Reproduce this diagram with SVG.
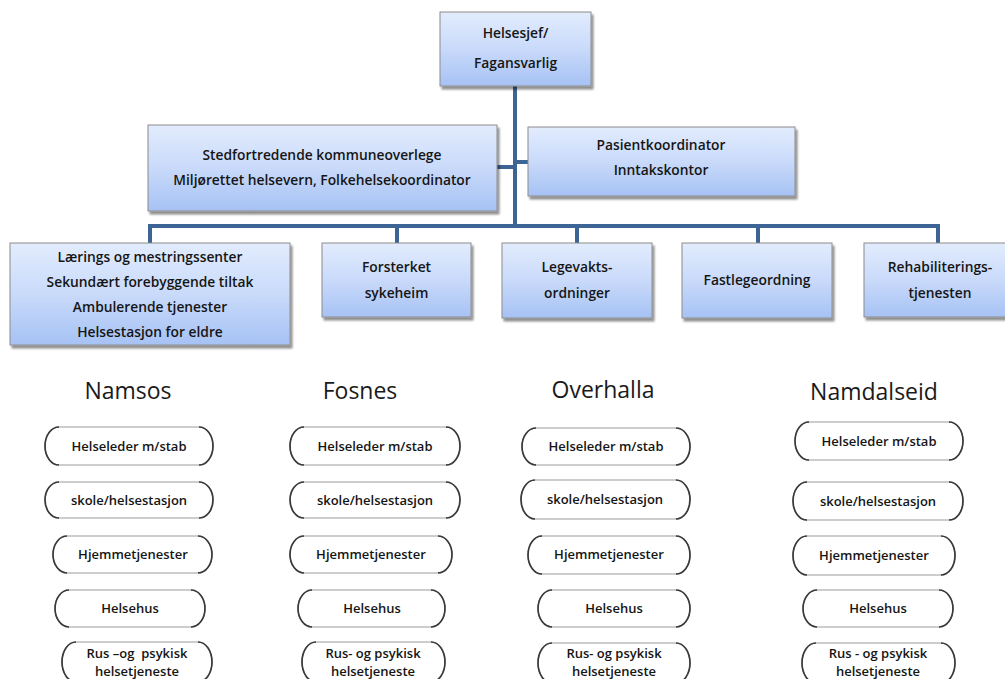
<svg xmlns="http://www.w3.org/2000/svg" width="1005" height="679" viewBox="0 0 1005 679">
<defs>
<linearGradient id="boxg" x1="0" y1="0" x2="0" y2="1">
<stop offset="0" stop-color="#e2ecfd"/>
<stop offset="0.5" stop-color="#c9dafa"/>
<stop offset="1" stop-color="#a6c2f4"/>
</linearGradient>
<filter id="sh" x="-5%" y="-5%" width="115%" height="125%">
<feGaussianBlur in="SourceAlpha" stdDeviation="1.2"/>
<feOffset dx="2" dy="2.5" result="b"/>
<feComponentTransfer><feFuncA type="linear" slope="0.45"/></feComponentTransfer>
<feMerge><feMergeNode/><feMergeNode in="SourceGraphic"/></feMerge>
</filter>
</defs>
<style>
.box{fill:url(#boxg);stroke:#8c8c8c;stroke-width:1;filter:url(#sh)}
.t{font-family:"Open Sans","Liberation Sans",sans-serif;font-weight:600;font-size:13.8px;fill:#151515;text-anchor:middle}
.tp{font-family:"Open Sans","Liberation Sans",sans-serif;font-weight:600;font-size:13px;fill:#151515;text-anchor:middle}
.h{font-family:"Open Sans","Liberation Sans",sans-serif;font-size:23px;fill:#1a1a1a;text-anchor:middle}
.pill{fill:#ffffff;stroke:#9a9a9a;stroke-width:1}
.pe{fill:none;stroke:#3a3a3a;stroke-width:1.7}
.c{fill:none;stroke:#3c6595;stroke-width:4;stroke-linecap:butt}
</style>
<rect width="1005" height="679" fill="#ffffff"/>

<g id="connectors">
<path class="c" d="M515 86 V226"/>
<path class="c" d="M148 226 H940"/>
<path class="c" d="M150 224 V243"/>
<path class="c" d="M397 226 V243"/>
<path class="c" d="M577 226 V243"/>
<path class="c" d="M758 226 V243"/>
<path class="c" d="M938 224 V243"/>
<path class="c" d="M497 167 H515"/>
<path class="c" d="M515 162 H528"/>
</g>

<g id="helsesjef">
<rect class="box" x="440" y="12" width="151" height="74"/>
<text class="t" x="515.5" y="38">Helsesjef/</text>
<text class="t" x="515.5" y="68">Fagansvarlig</text>
</g>

<g id="stedfortredende">
<rect class="box" x="148" y="125" width="349" height="86"/>
<text class="t" x="322" y="160">Stedfortredende kommuneoverlege</text>
<text class="t" x="322" y="185">Miljørettet helsevern, Folkehelsekoordinator</text>
</g>

<g id="pasientkoordinator">
<rect class="box" x="528" y="127" width="267" height="69"/>
<text class="t" x="661" y="150">Pasientkoordinator</text>
<text class="t" x="661" y="175">Inntakskontor</text>
</g>

<g id="laerings">
<rect class="box" x="10" y="243" width="280" height="102"/>
<text class="t" x="150" y="262">Lærings og mestringssenter</text>
<text class="t" x="150" y="287">Sekundært forebyggende tiltak</text>
<text class="t" x="150" y="312">Ambulerende tjenester</text>
<text class="t" x="150" y="337">Helsestasjon for eldre</text>
</g>

<g id="forsterket">
<rect class="box" x="322" y="243" width="149" height="74"/>
<text class="t" x="396.5" y="272">Forsterket</text>
<text class="t" x="396.5" y="298">sykeheim</text>
</g>

<g id="legevakt">
<rect class="box" x="502" y="243" width="150" height="75"/>
<text class="t" x="577" y="272">Legevakts-</text>
<text class="t" x="577" y="298">ordninger</text>
</g>

<g id="fastlege">
<rect class="box" x="682" y="243" width="150" height="75"/>
<text class="t" x="757" y="285">Fastlegeordning</text>
</g>

<g id="rehab">
<rect class="box" x="864" y="243" width="150" height="74"/>
<text class="t" x="940" y="272">Rehabiliterings-</text>
<text class="t" x="940" y="298">tjenesten</text>
</g>

<g id="headings">
<text class="h" x="128" y="399">Namsos</text>
<text class="h" x="360" y="399">Fosnes</text>
<text class="h" x="603" y="398">Overhalla</text>
<text class="h" x="874" y="400">Namdalseid</text>
</g>

<g id="namsos">
<g id="namsos-helseleder"><rect class="pill" x="45" y="427" width="168" height="38" rx="14" ry="19"/><path class="pe" d="M59 427 A14 19 0 0 0 59 465 M199 427 A14 19 0 0 1 199 465"/><text class="tp" x="129" y="451">Helseleder m/stab</text></g>
<g id="namsos-skole"><rect class="pill" x="45" y="482" width="168" height="36" rx="14" ry="18"/><path class="pe" d="M59 482 A14 18 0 0 0 59 518 M199 482 A14 18 0 0 1 199 518"/><text class="tp" x="129" y="505">skole/helsestasjon</text></g>
<g id="namsos-hjemme"><rect class="pill" x="53" y="536" width="159" height="37" rx="14" ry="18.5"/><path class="pe" d="M67 536 A14 18.5 0 0 0 67 573 M198 536 A14 18.5 0 0 1 198 573"/><text class="tp" x="133" y="559">Hjemmetjenester</text></g>
<g id="namsos-helsehus"><rect class="pill" x="55" y="590" width="150" height="37" rx="14" ry="18.5"/><path class="pe" d="M69 590 A14 18.5 0 0 0 69 627 M191 590 A14 18.5 0 0 1 191 627"/><text class="tp" x="130" y="613">Helsehus</text></g>
<g id="namsos-rus"><rect class="pill" x="62" y="642" width="150" height="40" rx="14" ry="20"/><path class="pe" d="M76 642 A14 20 0 0 0 76 682 M198 642 A14 20 0 0 1 198 682"/><text class="tp" x="137" y="658" xml:space="preserve">Rus –og  psykisk</text><text class="tp" x="137" y="676">helsetjeneste</text></g>
</g>

<g id="fosnes">
<g id="fosnes-helseleder"><rect class="pill" x="290" y="427" width="170" height="38" rx="14" ry="19"/><path class="pe" d="M304 427 A14 19 0 0 0 304 465 M446 427 A14 19 0 0 1 446 465"/><text class="tp" x="375" y="451">Helseleder m/stab</text></g>
<g id="fosnes-skole"><rect class="pill" x="290" y="482" width="170" height="36" rx="14" ry="18"/><path class="pe" d="M304 482 A14 18 0 0 0 304 518 M446 482 A14 18 0 0 1 446 518"/><text class="tp" x="375" y="505">skole/helsestasjon</text></g>
<g id="fosnes-hjemme"><rect class="pill" x="290" y="536" width="162" height="37" rx="14" ry="18.5"/><path class="pe" d="M304 536 A14 18.5 0 0 0 304 573 M438 536 A14 18.5 0 0 1 438 573"/><text class="tp" x="371" y="559">Hjemmetjenester</text></g>
<g id="fosnes-helsehus"><rect class="pill" x="298" y="590" width="147" height="37" rx="14" ry="18.5"/><path class="pe" d="M312 590 A14 18.5 0 0 0 312 627 M431 590 A14 18.5 0 0 1 431 627"/><text class="tp" x="372" y="613">Helsehus</text></g>
<g id="fosnes-rus"><rect class="pill" x="302" y="642" width="143" height="40" rx="14" ry="20"/><path class="pe" d="M316 642 A14 20 0 0 0 316 682 M431 642 A14 20 0 0 1 431 682"/><text class="tp" x="373" y="658">Rus- og psykisk</text><text class="tp" x="373" y="676">helsetjeneste</text></g>
</g>

<g id="overhalla">
<g id="overhalla-helseleder"><rect class="pill" x="522" y="428" width="168" height="37" rx="14" ry="18.5"/><path class="pe" d="M536 428 A14 18.5 0 0 0 536 465 M676 428 A14 18.5 0 0 1 676 465"/><text class="tp" x="606" y="451">Helseleder m/stab</text></g>
<g id="overhalla-skole"><rect class="pill" x="521" y="480" width="169" height="39" rx="14" ry="19.5"/><path class="pe" d="M535 480 A14 19.5 0 0 0 535 519 M676 480 A14 19.5 0 0 1 676 519"/><text class="tp" x="605" y="504">skole/helsestasjon</text></g>
<g id="overhalla-hjemme"><rect class="pill" x="528" y="536" width="162" height="38" rx="14" ry="19"/><path class="pe" d="M542 536 A14 19 0 0 0 542 574 M676 536 A14 19 0 0 1 676 574"/><text class="tp" x="609" y="559">Hjemmetjenester</text></g>
<g id="overhalla-helsehus"><rect class="pill" x="538" y="590" width="152" height="37" rx="14" ry="18.5"/><path class="pe" d="M552 590 A14 18.5 0 0 0 552 627 M676 590 A14 18.5 0 0 1 676 627"/><text class="tp" x="614" y="613">Helsehus</text></g>
<g id="overhalla-rus"><rect class="pill" x="538" y="643" width="152" height="40" rx="14" ry="20"/><path class="pe" d="M552 643 A14 20 0 0 0 552 683 M676 643 A14 20 0 0 1 676 683"/><text class="tp" x="614" y="658">Rus- og psykisk</text><text class="tp" x="614" y="676">helsetjeneste</text></g>
</g>

<g id="namdalseid">
<g id="namdalseid-helseleder"><rect class="pill" x="795" y="422" width="168" height="38" rx="14" ry="19"/><path class="pe" d="M809 422 A14 19 0 0 0 809 460 M949 422 A14 19 0 0 1 949 460"/><text class="tp" x="879" y="446">Helseleder m/stab</text></g>
<g id="namdalseid-skole"><rect class="pill" x="793" y="482" width="170" height="38" rx="14" ry="19"/><path class="pe" d="M807 482 A14 19 0 0 0 807 520 M949 482 A14 19 0 0 1 949 520"/><text class="tp" x="878" y="506">skole/helsestasjon</text></g>
<g id="namdalseid-hjemme"><rect class="pill" x="793" y="536" width="162" height="39" rx="14" ry="19.5"/><path class="pe" d="M807 536 A14 19.5 0 0 0 807 575 M941 536 A14 19.5 0 0 1 941 575"/><text class="tp" x="874" y="560">Hjemmetjenester</text></g>
<g id="namdalseid-helsehus"><rect class="pill" x="803" y="590" width="150" height="37" rx="14" ry="18.5"/><path class="pe" d="M817 590 A14 18.5 0 0 0 817 627 M939 590 A14 18.5 0 0 1 939 627"/><text class="tp" x="878" y="613">Helsehus</text></g>
<g id="namdalseid-rus"><rect class="pill" x="802" y="643" width="153" height="40" rx="14" ry="20"/><path class="pe" d="M816 643 A14 20 0 0 0 816 683 M941 643 A14 20 0 0 1 941 683"/><text class="tp" x="878" y="658" xml:space="preserve">Rus - og psykisk</text><text class="tp" x="878" y="676">helsetjeneste</text></g>
</g>
</svg>
